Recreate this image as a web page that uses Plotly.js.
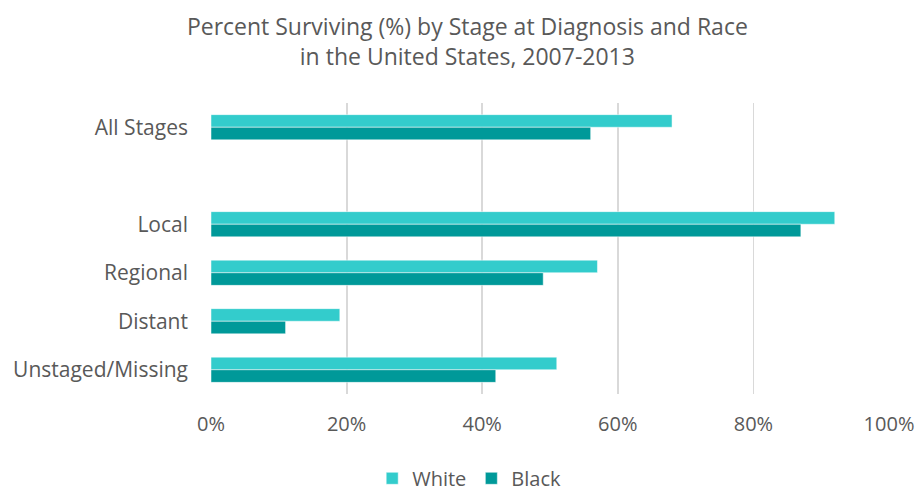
<!DOCTYPE html>
<html>
<head>
<meta charset="utf-8">
<script src="https://cdn.plot.ly/plotly-3.0.1.min.js"></script>
<style>html,body{margin:0;padding:0;background:#fff;}#chart{width:920px;height:486px;}</style>
</head>
<body>
<div id="chart"></div>
<script>
const categories = ['All Stages', ' ', 'Local', 'Regional', 'Distant', 'Unstaged/Missing'];
const whiteValues = [68, null, 92, 57, 19, 51];
const blackValues = [56, null, 87, 49, 11, 42];
const xTickVals = [0, 20, 40, 60, 80, 100];
const xTickText = ['0%', '20%', '40%', '60%', '80%', '100%'];

const font = "'Open Sans', 'Noto Sans', sans-serif";
const traces = [
  {type: 'bar', orientation: 'h', name: 'White', y: categories, x: whiteValues,
   marker: {color: '#33CCCC', line: {color: '#ffffff', width: 0.5}}, hoverinfo: 'x+y'},
  {type: 'bar', orientation: 'h', name: 'Black', y: categories, x: blackValues,
   marker: {color: '#009999', line: {color: '#ffffff', width: 0.5}}, hoverinfo: 'x+y'}
];
const layout = {
  width: 920, height: 486,
  margin: {l: 211, r: 31, t: 103, b: 92},
  paper_bgcolor: '#ffffff', plot_bgcolor: '#ffffff',
  font: {family: font, color: '#595959', size: 20},
  title: {text: 'Percent Surviving (%) by Stage at Diagnosis and Race<br>in the United States, 2007-2013',
          x: 0.508, xref: 'container', xanchor: 'center', y: 0.928, yref: 'container', yanchor: 'top',
          font: {family: font, size: 23, color: '#595959'}},
  barmode: 'group', bargap: 0.48, bargroupgap: 0,
  xaxis: {range: [0, 100], tickvals: xTickVals, ticktext: xTickText,
          showgrid: true, gridcolor: '#d9d9d9', gridwidth: 1.8,
          zeroline: false, showline: false, ticks: '', ticklabelstandoff: 16,
          tickfont: {size: 20, color: '#595959'}, fixedrange: true},
  yaxis: {type: 'category', categoryorder: 'array', categoryarray: categories,
          autorange: 'reversed', showgrid: false, zeroline: false, showline: false,
          ticks: '', ticklabelstandoff: 22, tickfont: {size: 21, color: '#595959'}},
  legend: {orientation: 'h', xref: 'container', x: 0.51, xanchor: 'center',
           yref: 'container', y: 0.056, yanchor: 'top', font: {size: 20, color: '#595959'},
           itemwidth: 30, traceorder: 'normal'},
  showlegend: true
};
Plotly.newPlot('chart', traces, layout, {displayModeBar: false, staticPlot: true});
</script>
</body>
</html>
